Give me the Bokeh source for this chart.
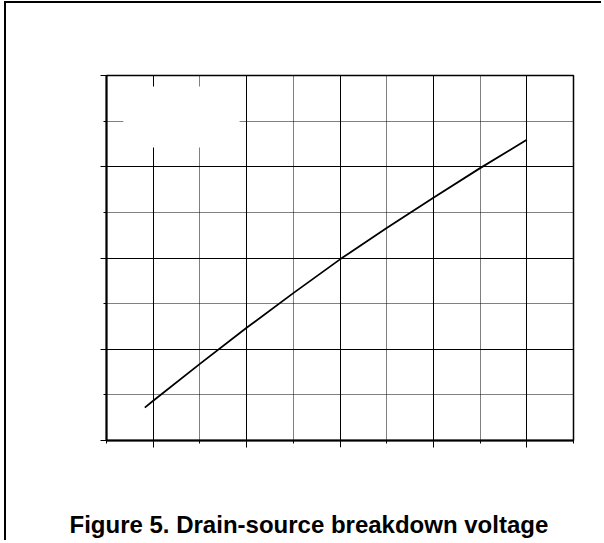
from bokeh.plotting import figure
from bokeh.models import Range1d, FixedTicker, LinearAxis, Title
from bokeh.embed import file_html
from bokeh.resources import INLINE

# Normalised temperature axis (10 divisions) and breakdown-voltage axis (8 divisions)
x_major = [1, 3, 5, 7, 9]
x_minor = [0, 2, 4, 6, 8, 10]
y_major = [0, 2, 4, 6, 8]
y_minor = [1, 3, 5, 7]

# Curve
curve_x = [0.82, 1.0, 2.0, 3.0, 4.0, 5.0, 6.0, 7.0, 8.0, 9.0]
curve_y = [0.72, 0.87, 1.68, 2.47, 3.23, 3.97, 4.66, 5.32, 5.97, 6.59]

title_text = "Figure 5. Drain-source breakdown voltage"

p = figure(width=597, height=539, output_backend="svg", toolbar_location=None,
           x_range=Range1d(0, 10), y_range=Range1d(0, 8),
           min_border_left=100, min_border_right=30,
           min_border_top=72, min_border_bottom=102)
p.styles = {"margin-left": "4px", "margin-top": "1px",
            "border-left": "2px solid black", "border-top": "2px solid black"}

p.background_fill_color = "white"
p.border_fill_color = "white"
p.outline_line_color = "black"
p.outline_line_width = 1.5

for ax, maj, mnr, tout in ((p.xaxis[0], x_major, x_minor, 7), (p.yaxis[0], y_major, y_minor, 6)):
    ax.ticker = FixedTicker(ticks=maj, minor_ticks=mnr)
    ax.axis_line_color = "black"
    ax.axis_line_width = 2
    ax.major_tick_line_color = "black"
    ax.minor_tick_line_color = "black"
    ax.major_tick_in = 0
    ax.major_tick_out = tout
    ax.minor_tick_in = 0
    ax.minor_tick_out = 3
    ax.major_label_overrides = {t: "" for t in maj}
    ax.major_label_standoff = 0

# white spacer axis between the x axis and the caption
spacer = LinearAxis(ticker=FixedTicker(ticks=[5], minor_ticks=[]),
                    axis_line_color=None, major_tick_line_color="white",
                    minor_tick_line_color=None, major_tick_in=0,
                    major_tick_out=61, major_label_standoff=0,
                    major_label_overrides={5: ""})
p.add_layout(spacer, "below")

for g in (p.xgrid[0], p.ygrid[0]):
    g.grid_line_color = "black"
    g.grid_line_width = 1
    g.minor_grid_line_color = "black"
    g.minor_grid_line_width = 1
    g.minor_grid_line_dash = "1 1"

# blank legend area
p.quad(left=[0.36], right=[2.85], bottom=[6.42], top=[7.76],
       fill_color="white", line_color=None)

p.line(curve_x, curve_y, line_color="black", line_width=1.8)

caption = Title(text=title_text, align="left", offset=-37, standoff=0,
                text_font="Liberation Sans", text_font_style="bold",
                text_font_size="24px", text_color="black")
p.add_layout(caption, "below")

open("out.html", "w").write(file_html(p, INLINE))
